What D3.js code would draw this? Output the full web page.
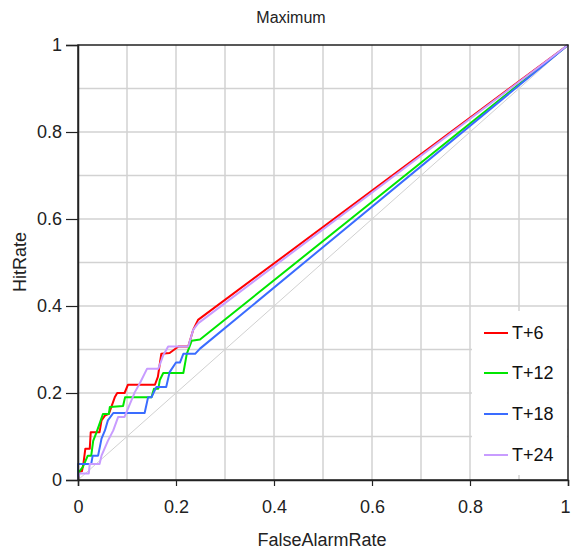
<!DOCTYPE html>
<html><head><meta charset="utf-8">
<script src="https://cdn.jsdelivr.net/npm/d3@7"></script>
<style>body{margin:0;background:#fff;} svg{display:block;font-family:"Liberation Sans",Arial,sans-serif;}</style>
</head><body>
<script>
const seriesNames = ["T+6","T+12","T+18","T+24"];
const seriesColors = ["#ff0000","#00e600","#3a6cff","#c89cff"];
const redPts = [[0,0],[0.003,0.02],[0.008,0.02],[0.011,0.037],[0.015,0.072],[0.024,0.072],[0.026,0.11],[0.044,0.11],[0.048,0.137],[0.055,0.148],[0.063,0.152],[0.075,0.19],[0.08,0.2],[0.095,0.2],[0.102,0.219],[0.157,0.219],[0.163,0.237],[0.17,0.29],[0.187,0.292],[0.205,0.307],[0.225,0.307],[0.235,0.345],[0.245,0.368],[1,1]];
const greenPts = [[0,0],[0.003,0.02],[0.01,0.03],[0.02,0.056],[0.027,0.056],[0.031,0.09],[0.038,0.11],[0.051,0.152],[0.063,0.152],[0.065,0.168],[0.092,0.17],[0.096,0.19],[0.15,0.19],[0.155,0.21],[0.164,0.21],[0.167,0.23],[0.174,0.246],[0.215,0.246],[0.222,0.29],[0.232,0.32],[0.249,0.323],[1,1]];
const bluePts = [[0,0],[0,0.037],[0.027,0.037],[0.03,0.056],[0.041,0.056],[0.048,0.095],[0.055,0.114],[0.061,0.137],[0.072,0.154],[0.136,0.154],[0.143,0.19],[0.15,0.19],[0.16,0.214],[0.18,0.214],[0.187,0.248],[0.2,0.27],[0.208,0.27],[0.215,0.29],[0.239,0.29],[0.249,0.302],[1,1]];
const purplePts = [[0,0],[0.003,0.015],[0.022,0.015],[0.024,0.037],[0.044,0.037],[0.048,0.056],[0.061,0.09],[0.072,0.114],[0.082,0.145],[0.095,0.145],[0.099,0.156],[0.109,0.183],[0.116,0.202],[0.126,0.222],[0.141,0.256],[0.164,0.256],[0.174,0.287],[0.184,0.307],[0.225,0.307],[0.235,0.345],[0.245,0.36],[1,1]];
const majorTicks = [0,0.2,0.4,0.6,0.8,1];
const gridTicks = [0.1,0.2,0.3,0.4,0.5,0.6,0.7,0.8,0.9];
const series = [redPts, greenPts, bluePts, purplePts];

const W=571,H=550;
const svg=d3.select("body").append("svg").attr("width",W).attr("height",H);
const x=d3.scaleLinear().domain([0,1]).range([78,568]);
const y=d3.scaleLinear().domain([0,1]).range([480,45]);

// grid
const g=svg.append("g");
g.selectAll(".gx").data(gridTicks).join("line")
 .attr("x1",d=>x(d)).attr("x2",d=>x(d)).attr("y1",y(0)).attr("y2",y(1))
 .attr("stroke","#d2d2d2").attr("stroke-width",1.5);
g.selectAll(".gy").data(gridTicks).join("line")
 .attr("y1",d=>y(d)).attr("y2",d=>y(d)).attr("x1",x(0)).attr("x2",x(1))
 .attr("stroke","#d2d2d2").attr("stroke-width",1.5);
// diagonal
svg.append("line").attr("x1",x(0)).attr("y1",y(0)).attr("x2",x(1)).attr("y2",y(1))
 .attr("stroke","#d0d0d0").attr("stroke-width",1);

const line=d3.line().x(d=>x(d[0])).y(d=>y(d[1]));
series.forEach((s,i)=>{
  svg.append("path").datum(s).attr("d",line).attr("fill","none")
   .attr("stroke",seriesColors[i]).attr("stroke-width",2).attr("stroke-linejoin","round");
});

// frame
svg.append("rect").attr("x",x(0)).attr("y",y(1)).attr("width",x(1)-x(0)).attr("height",y(0)-y(1))
 .attr("fill","none").attr("stroke","#222").attr("stroke-width",1.5);

// axes
const xa=d3.axisBottom(x).tickValues(majorTicks).tickFormat(d3.format("~g")).tickSize(6).tickPadding(14);
const ya=d3.axisLeft(y).tickValues(majorTicks).tickFormat(d3.format("~g")).tickSize(12).tickPadding(4);
const gx=svg.append("g").attr("transform",`translate(0,${y(0)})`).call(xa);
const gy=svg.append("g").attr("transform",`translate(${x(0)},0)`).call(ya);
[gx,gy].forEach(a=>{
  a.select(".domain").attr("stroke","#222").attr("stroke-width",1.5);
  a.selectAll(".tick line").attr("stroke","#222").attr("stroke-width",1.2);
  a.selectAll(".tick text").attr("fill","#222").style("font-size","18px").style("font-family","'Liberation Sans',Arial,sans-serif");
});
gx.selectAll(".tick text").filter(d=>d===1).attr("dx","-3");

// legend
svg.append("rect").attr("x",472).attr("y",311).attr("width",95).attr("height",164).attr("fill","#fff");
const legY=[333,373,414,455];
seriesNames.forEach((n,i)=>{
  svg.append("line").attr("x1",484).attr("x2",508).attr("y1",legY[i]).attr("y2",legY[i])
    .attr("stroke",seriesColors[i]).attr("stroke-width",2);
  svg.append("text").attr("x",512).attr("y",legY[i]).attr("dy","0.36em")
    .attr("fill","#111").style("font-size","18px").text(n);
});

// titles
svg.append("text").attr("x",291).attr("y",23).attr("text-anchor","middle").attr("fill","#222").style("font-size","16px").text("Maximum");
svg.append("text").attr("x",322).attr("y",546).attr("text-anchor","middle").attr("fill","#222").style("font-size","18px").text("FalseAlarmRate");
svg.append("text").attr("transform","translate(26,262) rotate(-90)").attr("text-anchor","middle").attr("fill","#222").style("font-size","18px").text("HitRate");
</script>
</body></html>
